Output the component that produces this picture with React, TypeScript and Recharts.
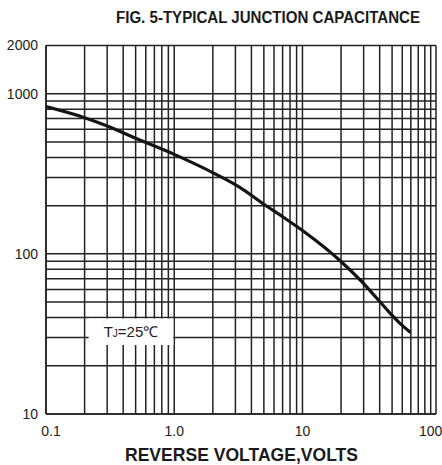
import React from 'react';
import { LineChart, Line, XAxis, YAxis, CartesianGrid, ReferenceArea } from 'recharts';

// curve (reverse voltage in V, capacitance in pF)
const voltage = [0.1, 0.2, 0.3, 0.5, 1.0, 2.1, 3.2, 5.1, 7.2, 10.5, 19.4, 29, 38, 47.5, 57.6, 69.6];
const capacitance = [830, 708, 629, 527, 418, 315, 262, 202, 168, 136, 91.5, 67, 52.8, 43.2, 36.8, 32.3];

// grid lines (log paper) and the few that carry a label
const xTicks = [
  0.1, 0.2, 0.3, 0.4, 0.5, 0.6, 0.7, 0.8, 0.9,
  1, 2, 3, 4, 5, 6, 7, 8, 9,
  10, 20, 30, 40, 50, 60, 70, 80, 90,
  100, 110,
];
const yTicks = [
  10, 20, 30, 40, 50, 60, 70, 80, 90,
  100, 200, 300, 400, 500, 600, 700, 800, 900,
  1000, 2000,
];
const xLabels: Record<number, string> = { 0.1: '0.1', 1: '1.0', 10: '10', 100: '100' };
const yLabels: Record<number, string> = { 10: '10', 100: '100', 1000: '1000', 2000: '2000' };

const data = voltage.map((v, i) => ({ v, c: capacitance[i] }));

const FONT = '"Liberation Sans", Arial, sans-serif';
const NARROW = '"Liberation Sans Narrow", "Liberation Sans", Arial, sans-serif';
const INK = '#222';

const XTick = (props: any) => {
  const { x, y, payload } = props;
  const label = xLabels[payload.value];
  if (!label) return <g />;
  const shift = payload.value === 0.1 ? 5 : 0;
  return (
    <text x={x + shift} y={y} dy="0.71em" textAnchor="middle" fontSize={14} fontFamily={FONT} fill="#222">
      {label}
    </text>
  );
};

const YTick = (props: any) => {
  const { x, y, payload } = props;
  const label = yLabels[payload.value];
  if (!label) return <g />;
  return (
    <text x={x} y={y} dy="0.355em" textAnchor="end" fontSize={14} fontFamily={FONT} fill="#222">
      {label}
    </text>
  );
};

const TjLabel = (props: any) => {
  const vb = props.viewBox || {};
  const cx = vb.x + vb.width / 2;
  const cy = vb.y + vb.height / 2;
  return (
    <text x={cx} y={cy} dy="0.36em" textAnchor="middle" fontSize={15} fontFamily={FONT} fill="#222">
      T<tspan fontSize={10}>J</tspan>=25℃
    </text>
  );
};

export default function App() {
  return (
    <div style={{ position: 'relative', width: 442, height: 465, background: '#fff' }}>
      <style>{'body{margin:0}'}</style>
      <LineChart width={442} height={465} data={data} margin={{ top: 45.5, right: 6, bottom: 21, left: 0 }}>
        <CartesianGrid stroke={INK} strokeWidth={1.5} horizontal vertical />
        <XAxis
          dataKey="v"
          type="number"
          scale="log"
          domain={[0.1, 110]}
          allowDataOverflow
          ticks={xTicks}
          interval={0}
          tick={<XTick />}
          tickLine={false}
          tickSize={0}
          tickMargin={12}
          axisLine={{ stroke: INK, strokeWidth: 1.5 }}
          height={30}
        />
        <YAxis
          type="number"
          scale="log"
          domain={[10, 2000]}
          allowDataOverflow
          ticks={yTicks}
          interval={0}
          tick={<YTick />}
          tickLine={false}
          tickSize={0}
          tickMargin={8}
          axisLine={{ stroke: INK, strokeWidth: 1.5 }}
          width={46}
        />
        <ReferenceArea
          x1={0.215}
          x2={0.985}
          y1={27}
          y2={39.5}
          fill="#fff"
          fillOpacity={1}
          stroke="none"
          label={<TjLabel />}
        />
        <Line
          type="monotone"
          dataKey="c"
          stroke="#141414"
          strokeWidth={3.2}
          dot={false}
          activeDot={false}
          isAnimationActive={false}
        />
      </LineChart>
      <svg width={442} height={465} style={{ position: 'absolute', left: 0, top: 0, pointerEvents: 'none' }}>
        <text
          x={268}
          y={22.5}
          textAnchor="middle"
          fontSize={16}
          fontWeight="bold"
          fontFamily={NARROW}
          fill="#1a1a1a"
          textLength={304}
          lengthAdjust="spacingAndGlyphs"
        >
          FIG. 5-TYPICAL JUNCTION CAPACITANCE
        </text>
        <text
          x={241.5}
          y={461}
          textAnchor="middle"
          fontSize={18}
          fontWeight="bold"
          fontFamily={NARROW}
          fill="#1a1a1a"
          textLength={233}
          lengthAdjust="spacingAndGlyphs"
        >
          REVERSE VOLTAGE,VOLTS
        </text>
      </svg>
    </div>
  );
}
